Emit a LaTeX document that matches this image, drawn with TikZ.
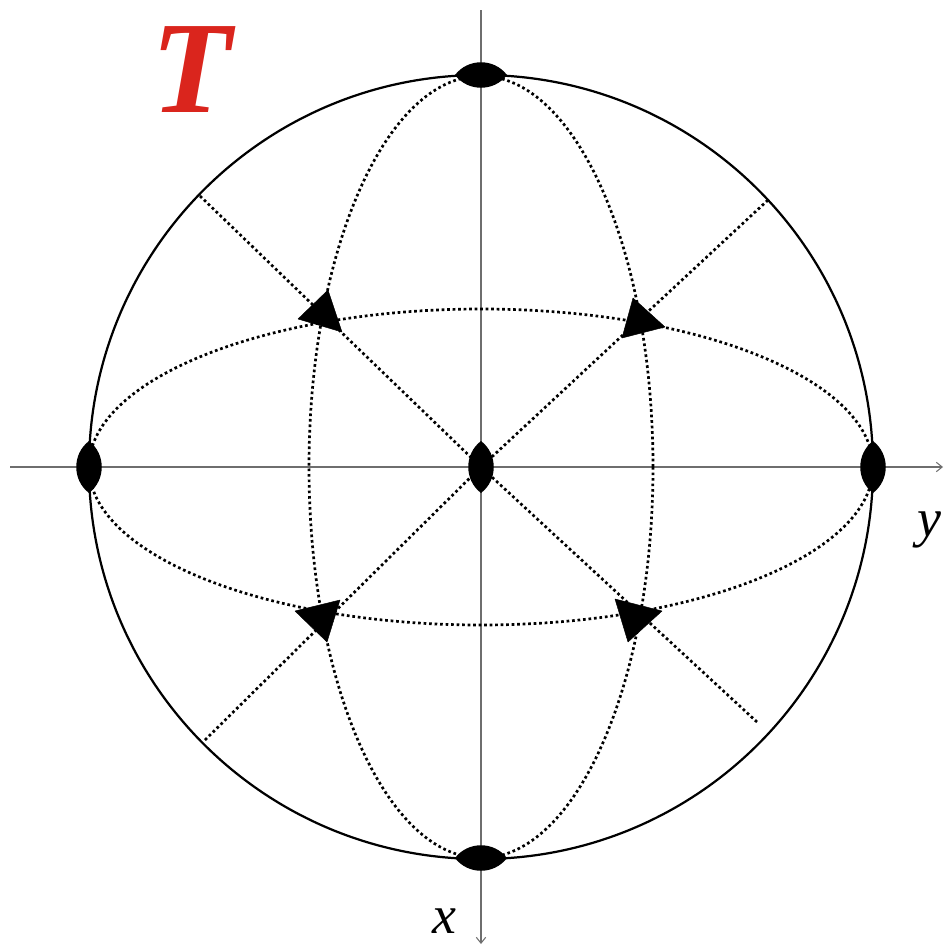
\documentclass[tikz,border=0pt]{standalone}
\usepackage{fontspec}
\setmainfont{Liberation Serif}
\usetikzlibrary{arrows.meta}
\definecolor{tred}{RGB}{218,37,29}
\definecolor{axgray}{RGB}{110,110,110}
\tikzset{
  axisline/.style={draw=axgray,line width=0.9pt,-{Straight Barb[length=5pt,width=8pt]}},
  bigcircle/.style={draw=black,line width=1.9pt},
  dotline/.style={draw=black,line width=2.3pt,dash pattern=on 2.3pt off 2.4pt},
  threefold/.style={fill=black,draw=black,line width=0.4pt,line join=round},
  lbl/.style={inner sep=0pt,font=\fontsize{46}{52}\selectfont\itshape},
  lensV/.pic={\fill[black] (0,-26) .. controls (17,-13) and (17,13) .. (0,26) .. controls (-17,13) and (-17,-13) .. (0,-26) -- cycle;},
  lensH/.pic={\fill[black] (-26,0) .. controls (-13,17) and (13,17) .. (26,0) .. controls (13,-17) and (-13,-17) .. (-26,0) -- cycle;}
}
\begin{document}
\begin{tikzpicture}[x=0.03cm,y=-0.03cm]
\useasboundingbox (0,0) rectangle (945,948);
% coordinates
\coordinate (O) at (481,467);
\coordinate (N) at (481,75);
\coordinate (S) at (481,858);
\coordinate (W) at (89,467);
\coordinate (E) at (873,467);
\coordinate (ax1) at (481,10);
\coordinate (ax2) at (481,944);
\coordinate (ay1) at (10,467);
\coordinate (ay2) at (943,467);
\coordinate (dUL) at (200,196);
\coordinate (dUR) at (768,200);
\coordinate (dLL) at (205,740);
\coordinate (dLR) at (757,722);
% axes
\draw[axisline] (ax1) -- (ax2);
\draw[axisline] (ay1) -- (ay2);
% great circle
\draw[bigcircle] (O) circle [radius=392];
% dotted great circles
\draw[dotline] (O) ellipse [x radius=392, y radius=158];
\draw[dotline] (O) ellipse [x radius=172, y radius=391];
% diagonals
\draw[dotline] (dUL) -- (O);
\draw[dotline] (dUR) -- (O);
\draw[dotline] (dLL) -- (O);
\draw[dotline] (dLR) -- (O);
% three-fold triangles
\filldraw[threefold] (328,290) -- (298,319) -- (342,332) -- cycle;
\filldraw[threefold] (633,298) -- (622,338) -- (665,327) -- cycle;
\filldraw[threefold] (295,611) -- (340,600) -- (327,642) -- cycle;
\filldraw[threefold] (615,599) -- (662,611) -- (628,642) -- cycle;
% two-fold lenses
\pic at (N) {lensH};
\pic at (S) {lensH};
\pic at (O) {lensV};
\pic at (W) {lensV};
\pic at (E) {lensV};
% labels
\node[lbl] (ylab) at (929,530) {y};
\node[lbl] (xlab) at (444,921) {x};
\node[inner sep=0pt,text=tred,font=\fontsize{112}{120}\selectfont\bfseries\itshape] (Tlab) at (192,70) {T};
\end{tikzpicture}
\end{document}
